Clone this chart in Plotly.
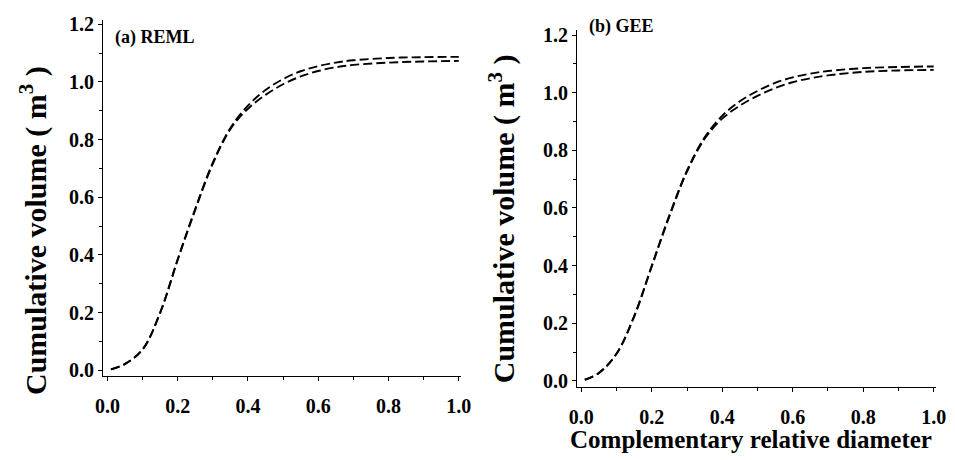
import plotly.graph_objects as go

# ---- data ----
rel_diam = [0.01, 0.05, 0.1, 0.15, 0.2, 0.25, 0.3, 0.35, 0.4, 0.45, 0.5, 0.55, 0.6, 0.65, 0.7, 0.8, 0.9, 1.0]
reml_upper = [0.003, 0.022, 0.072, 0.200, 0.385, 0.560, 0.720, 0.840, 0.918, 0.972, 1.010, 1.037, 1.055, 1.067, 1.075, 1.083, 1.086, 1.087]
reml_lower = [0.003, 0.021, 0.071, 0.198, 0.382, 0.556, 0.716, 0.836, 0.907, 0.955, 0.992, 1.019, 1.038, 1.051, 1.059, 1.067, 1.071, 1.073]
gee_upper = [0.004, 0.028, 0.095, 0.225, 0.400, 0.575, 0.730, 0.845, 0.920, 0.970, 1.006, 1.034, 1.053, 1.066, 1.075, 1.085, 1.089, 1.091]
gee_lower = [0.004, 0.027, 0.094, 0.223, 0.397, 0.571, 0.726, 0.840, 0.910, 0.955, 0.989, 1.016, 1.036, 1.050, 1.060, 1.072, 1.077, 1.079]

tick_vals = [0.0, 0.2, 0.4, 0.6, 0.8, 1.0, 1.2]
tick_text = ["0.0", "0.2", "0.4", "0.6", "0.8", "1.0", "1.2"]
xtick_vals = [0.0, 0.2, 0.4, 0.6, 0.8, 1.0]
xtick_text = ["0.0", "0.2", "0.4", "0.6", "0.8", "1.0"]

W, H = 955, 460
FONT = "Liberation Serif"

fig = go.Figure()
line_style = dict(color="black", width=1.9, dash="9px,4px", shape="spline")
for xa, ya, ys in [("x", "y", reml_upper), ("x", "y", reml_lower),
                   ("x2", "y2", gee_upper), ("x2", "y2", gee_lower)]:
    fig.add_trace(go.Scatter(x=rel_diam, y=ys, mode="lines", line=line_style,
                             xaxis=xa, yaxis=ya, showlegend=False, hoverinfo="skip"))

tickfont = dict(family=FONT, size=20, color="black", weight="bold")
common_x = dict(range=[-0.012, 1.007], showline=True, linecolor="black", linewidth=1.2,
                ticks="outside", ticklen=4, tickwidth=1.2, tickcolor="black",
                tickvals=xtick_vals, ticktext=xtick_text, tickfont=tickfont,
                showgrid=False, zeroline=False, ticklabelstandoff=8,
                minor=dict(dtick=0.1, ticks="outside", ticklen=3, tickcolor="black", tickwidth=1, showgrid=False))
common_y = dict(range=[-0.02, 1.216], showline=True, linecolor="black", linewidth=1.2,
                ticks="outside", ticklen=4, tickwidth=1.2, tickcolor="black",
                tickvals=tick_vals, ticktext=tick_text, tickfont=tickfont,
                showgrid=False, zeroline=False,
                minor=dict(dtick=0.1, ticks="outside", ticklen=3, tickcolor="black", tickwidth=1, showgrid=False))

fig.update_layout(
    width=W, height=H, margin=dict(l=0, r=0, t=0, b=0),
    paper_bgcolor="white", plot_bgcolor="white",
    xaxis=dict(domain=[97 / W, 462 / W], anchor="y", **common_x),
    yaxis=dict(domain=[1 - 379 / H, 1 - 14 / H], anchor="x", **common_y),
    xaxis2=dict(domain=[580 / W, 946 / W], anchor="y2", **common_x),
    yaxis2=dict(domain=[1 - 390 / H, 1 - 25 / H], anchor="x2", **common_y),
)

title_font = dict(family=FONT, size=30, color="black", weight="bold")
ann = [
    dict(text="Cumulative volume ( m<sup>3</sup> )", x=26 / W, y=1 - 230 / H, textangle=-90,
         font=title_font, yanchor="middle"),
    dict(text="Cumulative volume ( m<sup>3</sup> )", x=504 / W, y=1 - 218 / H, textangle=-90,
         font=title_font, yanchor="middle"),
    dict(text="Complementary relative diameter", x=757 / W, y=0.0, yanchor="bottom",
         font=dict(family=FONT, size=25, color="black", weight="bold")),
    dict(text="(a) REML", x=107 / W, y=1 - 32.5 / H, xanchor="left", yanchor="middle",
         font=dict(family=FONT, size=18, color="black", weight="bold")),
    dict(text="(b) GEE", x=590 / W, y=1 - 20.5 / H, xanchor="left", yanchor="middle",
         font=dict(family=FONT, size=18, color="black", weight="bold")),
]
for a in ann:
    a.setdefault("xanchor", "center")
    fig.add_annotation(xref="paper", yref="paper", showarrow=False, **a)

fig.write_html("out.html")
